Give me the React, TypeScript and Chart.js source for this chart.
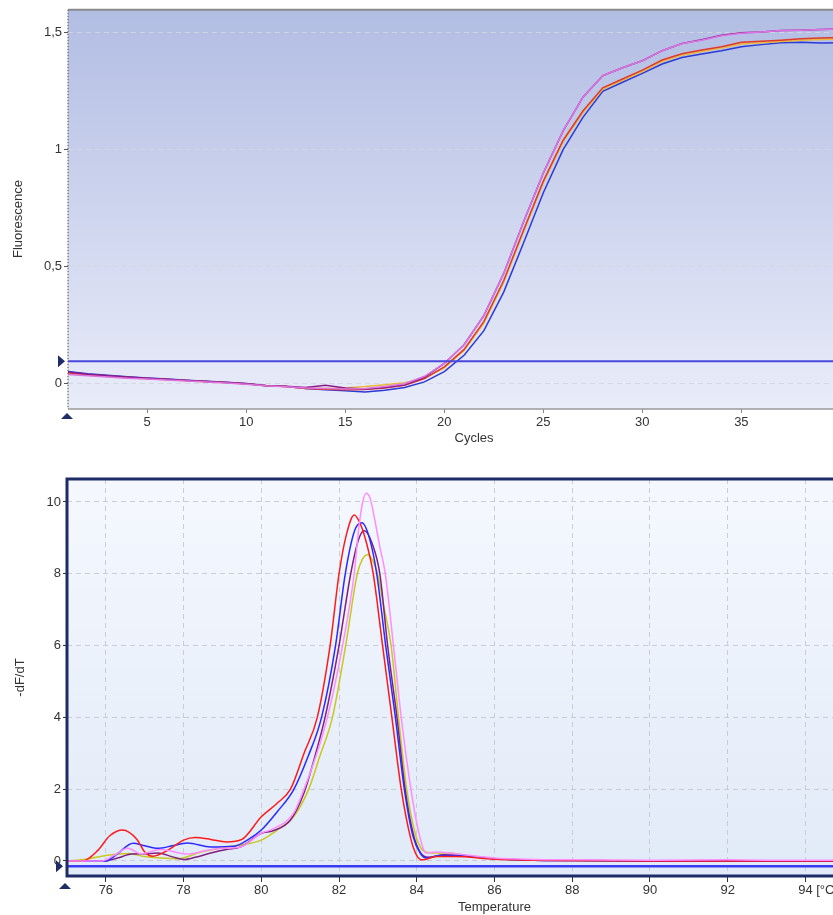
import React, { useEffect, useRef } from 'react';
import { Chart, registerables } from 'chart.js';

Chart.register(...registerables);

const FONT = "'Liberation Sans', Arial, Helvetica, sans-serif";

// ---------- Amplification (top) ----------
const cycles = [1, 2, 3, 4, 5, 6, 7, 8, 9, 10, 11, 12, 13, 14, 15, 16, 17, 18, 19, 20, 21, 22, 23, 24, 25, 26, 27, 28, 29, 30, 31, 32, 33, 34, 35, 36, 37, 38, 39, 40];
const ampBlue = [0.05, 0.041, 0.034, 0.028, 0.023, 0.018, 0.013, 0.009, 0.004, -0.001, -0.009, -0.014, -0.022, -0.028, -0.032, -0.037, -0.03, -0.018, 0.006,
  0.05, 0.12, 0.225, 0.39, 0.6, 0.815, 1.0, 1.138, 1.249, 1.288, 1.326, 1.366, 1.394, 1.409, 1.423, 1.44, 1.449, 1.457, 1.459, 1.456, 1.457];
const ampGold = [0.042, 0.035, 0.029, 0.024, 0.019, 0.015, 0.011, 0.007, 0.002, -0.003, -0.01, -0.014, -0.02, -0.022, -0.02, -0.014, -0.006, 0.002, 0.022,
  0.066, 0.14, 0.258, 0.432, 0.648, 0.858, 1.034, 1.158, 1.258, 1.296, 1.334, 1.377, 1.404, 1.42, 1.434, 1.452, 1.457, 1.462, 1.468, 1.471, 1.473];
const ampRed = [0.045, 0.037, 0.031, 0.026, 0.021, 0.016, 0.012, 0.008, 0.003, -0.002, -0.01, -0.014, -0.022, -0.026, -0.028, -0.027, -0.02, -0.008, 0.02,
  0.07, 0.145, 0.265, 0.44, 0.655, 0.865, 1.04, 1.165, 1.264, 1.302, 1.34, 1.383, 1.41, 1.426, 1.44, 1.459, 1.463, 1.468, 1.474, 1.477, 1.479];
const ampPurple = [0.048, 0.039, 0.032, 0.027, 0.022, 0.017, 0.012, 0.008, 0.003, -0.002, -0.01, -0.013, -0.018, -0.008, -0.02, -0.024, -0.018, -0.006, 0.025,
  0.085, 0.165, 0.29, 0.47, 0.69, 0.9, 1.08, 1.224, 1.316, 1.35, 1.38, 1.423, 1.454, 1.47, 1.489, 1.5, 1.503, 1.509, 1.511, 1.514, 1.516];
const ampPink = [0.038, 0.032, 0.027, 0.022, 0.018, 0.014, 0.01, 0.006, 0.001, -0.004, -0.011, -0.015, -0.02, -0.022, -0.024, -0.022, -0.014, -0.002, 0.03,
  0.085, 0.165, 0.29, 0.47, 0.69, 0.9, 1.08, 1.224, 1.316, 1.35, 1.38, 1.423, 1.454, 1.468, 1.487, 1.498, 1.503, 1.509, 1.511, 1.514, 1.516];
const ampThreshold = 0.094;
const cycleTicks = [5, 10, 15, 20, 25, 30, 35];
const fluorTicks = [0, 0.5, 1, 1.5];

// ---------- Melt curve (bottom) ----------
const meltRedT = [75, 75.4, 75.8, 76.1, 76.43, 76.8, 77.0, 77.21, 77.6, 78.0, 78.3, 78.7, 79.1, 79.5, 80.0, 80.4, 80.75, 81.1, 81.44, 81.77, 82.0, 82.18, 82.39, 82.56, 82.72, 82.88, 83.12, 83.36, 83.6, 83.85, 84.0, 84.15, 84.5, 85, 86, 87, 88, 90, 92, 95];
const meltRedV = [0, 0.0, 0.3, 0.7, 0.86, 0.6, 0.25, 0.13, 0.3, 0.58, 0.65, 0.6, 0.53, 0.6, 1.23, 1.6, 2.0, 3.0, 4.0, 6.0, 8.0, 9.05, 9.64, 9.36, 8.8, 8.0, 6.0, 4.0, 2.0, 0.6, 0.15, 0.03, 0.12, 0.12, 0.05, 0.02, 0.01, 0, 0, 0];
const meltBlueT = [75, 76.0, 76.3, 76.7, 77.0, 77.34, 77.7, 78.1, 78.7, 79.3, 79.64, 80.0, 80.41, 80.83, 81.2, 81.55, 81.91, 82.16, 82.4, 82.59, 82.78, 82.97, 83.2, 83.45, 83.68, 83.9, 84.1, 84.25, 84.6, 85, 86, 87, 88, 90, 95];
const meltBlueV = [0, 0, 0.2, 0.49, 0.42, 0.35, 0.42, 0.5, 0.39, 0.41, 0.58, 0.86, 1.37, 1.98, 2.9, 4.0, 6.0, 8.0, 9.2, 9.42, 9.0, 8.0, 6.0, 4.0, 2.0, 0.7, 0.2, 0.08, 0.15, 0.15, 0.06, 0.02, 0.01, 0, 0];
const meltPurpleT = [75, 76.0, 76.3, 76.66, 77.0, 77.34, 77.7, 78.0, 78.3, 78.7, 79.1, 79.47, 80.0, 80.3, 80.75, 81.1, 81.35, 81.64, 82.0, 82.3, 82.5, 82.65, 82.85, 83.05, 83.25, 83.49, 83.7, 83.92, 84.1, 84.3, 84.7, 85.2, 86, 87, 88, 90, 95];
const meltPurpleV = [0, 0, 0.08, 0.19, 0.2, 0.22, 0.12, 0.04, 0.1, 0.22, 0.32, 0.39, 0.77, 0.84, 1.14, 1.9, 2.8, 4.0, 6.0, 8.0, 8.95, 9.2, 8.85, 8.0, 6.0, 4.0, 2.0, 0.7, 0.22, 0.1, 0.17, 0.14, 0.06, 0.02, 0.01, 0, 0];
const meltPinkT = [75, 75.9, 76.2, 76.57, 76.9, 77.4, 78.1, 78.6, 79.0, 79.47, 80.0, 80.32, 80.83, 81.1, 81.4, 81.7, 82.09, 82.39, 82.5, 82.6, 82.7, 82.8, 82.92, 83.05, 83.19, 83.4, 83.6, 83.85, 84.05, 84.24, 84.5, 85, 86, 87, 88, 90, 92, 93, 95];
const meltPinkV = [0, 0, 0.15, 0.35, 0.2, 0.32, 0.19, 0.3, 0.35, 0.39, 0.77, 0.9, 1.33, 2.0, 2.9, 4.0, 6.0, 8.0, 9.2, 9.95, 10.24, 10.1, 9.5, 8.75, 8.0, 6.0, 4.0, 2.0, 0.8, 0.22, 0.25, 0.2, 0.08, 0.04, 0.03, 0.02, 0.03, 0.02, 0.02];
const meltYellowT = [75, 75.5, 76.0, 76.57, 77.0, 77.42, 77.85, 78.45, 79.13, 79.72, 80.0, 80.41, 80.83, 81.22, 81.5, 81.83, 82.17, 82.47, 82.6, 82.73, 82.86, 82.99, 83.15, 83.34, 83.53, 83.74, 83.95, 84.15, 84.4, 84.8, 85.3, 86, 87, 88, 95];
const meltYellowV = [0, 0.05, 0.15, 0.21, 0.12, 0.08, 0.06, 0.25, 0.39, 0.49, 0.58, 0.86, 1.23, 2.0, 2.9, 4.0, 6.0, 8.0, 8.4, 8.53, 8.38, 8.0, 7.1, 6.0, 4.0, 2.0, 0.8, 0.3, 0.22, 0.22, 0.15, 0.07, 0.03, 0.01, 0];
const meltThreshold = -0.15;
const tempTicks = [76, 78, 80, 82, 84, 86, 88, 90, 92, 94];
const dfTicks = [0, 2, 4, 6, 8, 10];

const pts = (xs: number[], ys: number[]) => xs.map((x, i) => ({ x, y: ys[i] }));

const topDecor = {
  id: 'topDecor',
  beforeDraw(chart: any) {
    const { ctx, chartArea: a } = chart;
    const g = ctx.createLinearGradient(0, a.top, 0, a.bottom);
    g.addColorStop(0, '#b2bde3');
    g.addColorStop(1, '#e9ecf9');
    ctx.save();
    ctx.fillStyle = g;
    ctx.fillRect(a.left, a.top, a.right - a.left, a.bottom - a.top);
    ctx.restore();
  },
  afterDraw(chart: any) {
    const { ctx, chartArea: a, scales } = chart;
    ctx.save();
    ctx.strokeStyle = '#8a8a8a';
    ctx.lineWidth = 2;
    ctx.beginPath(); ctx.moveTo(a.left, a.top); ctx.lineTo(a.right, a.top); ctx.stroke();
    ctx.strokeStyle = '#9a9a9a';
    ctx.lineWidth = 1.5;
    ctx.beginPath(); ctx.moveTo(a.left, a.bottom); ctx.lineTo(a.right, a.bottom); ctx.stroke();
    ctx.strokeStyle = '#666';
    ctx.lineWidth = 1.2;
    ctx.setLineDash([1.5, 1.5]);
    ctx.beginPath(); ctx.moveTo(a.left, a.top); ctx.lineTo(a.left, a.bottom); ctx.stroke();
    ctx.setLineDash([]);
    const ty = scales.y.getPixelForValue(ampThreshold);
    ctx.fillStyle = '#1f2d66';
    ctx.beginPath(); ctx.moveTo(a.left - 10, ty - 6); ctx.lineTo(a.left - 3, ty); ctx.lineTo(a.left - 10, ty + 6); ctx.closePath(); ctx.fill();
    ctx.beginPath(); ctx.moveTo(a.left - 7, a.bottom + 10); ctx.lineTo(a.left - 1, a.bottom + 4); ctx.lineTo(a.left + 5, a.bottom + 10); ctx.closePath(); ctx.fill();
    ctx.translate(18, 219);
    ctx.rotate(-Math.PI / 2);
    ctx.font = `13px ${FONT}`;
    ctx.fillStyle = '#333';
    ctx.textAlign = 'center';
    ctx.textBaseline = 'middle';
    ctx.fillText('Fluorescence', 0, 0);
    ctx.restore();
  },
};

const bottomDecor = {
  id: 'bottomDecor',
  beforeDraw(chart: any) {
    const { ctx, chartArea: a } = chart;
    const g = ctx.createLinearGradient(0, a.top, 0, a.bottom);
    g.addColorStop(0, '#f5f8fe');
    g.addColorStop(1, '#e1eaf8');
    ctx.save();
    ctx.fillStyle = g;
    ctx.fillRect(a.left, a.top, a.right - a.left, a.bottom - a.top);
    ctx.restore();
  },
  afterDraw(chart: any) {
    const { ctx, chartArea: a, scales } = chart;
    ctx.save();
    ctx.strokeStyle = '#1d2b66';
    ctx.lineWidth = 3;
    ctx.strokeRect(a.left, a.top, a.right - a.left, a.bottom - a.top);
    const ty = scales.y.getPixelForValue(meltThreshold);
    ctx.fillStyle = '#1f2d66';
    ctx.beginPath(); ctx.moveTo(a.left - 11, ty - 6); ctx.lineTo(a.left - 4, ty); ctx.lineTo(a.left - 11, ty + 6); ctx.closePath(); ctx.fill();
    ctx.beginPath(); ctx.moveTo(a.left - 8, a.bottom + 13); ctx.lineTo(a.left - 2, a.bottom + 7); ctx.lineTo(a.left + 4, a.bottom + 13); ctx.closePath(); ctx.fill();
    ctx.font = `13px ${FONT}`;
    ctx.fillStyle = '#333';
    ctx.textBaseline = 'middle';
    ctx.textAlign = 'left';
    const px = scales.x.getPixelForValue(94);
    const w = ctx.measureText('94').width;
    ctx.fillText('[°C]', px + w / 2 + ctx.measureText(' ').width, a.bottom + 14);
    ctx.restore();
  },
};

const tickFont = { family: FONT, size: 13 };
const comma = (v: any) => String(v).replace('.', ',');

function AmpChart() {
  const ref = useRef<HTMLCanvasElement>(null);
  useEffect(() => {
    const line = (data: number[], color: string) => ({
      data: pts(cycles, data), borderColor: color, borderWidth: 1.5, pointRadius: 0, tension: 0, fill: false,
    });
    // Chart.js paints dataset 0 last (on top)
    const chart = new Chart(ref.current!, {
      type: 'line',
      data: {
        datasets: [
          { data: [{ x: 1, y: ampThreshold }, { x: 42, y: ampThreshold }], borderColor: '#4848dc', borderWidth: 2, pointRadius: 0 },
          line(ampPink, '#dc74e2'),
          line(ampPurple, '#8a1a90'),
          line(ampRed, '#e0382a'),
          line(ampGold, '#eab83a'),
          line(ampBlue, '#2a3ad8'),
        ] as any,
      },
      options: {
        animation: false,
        responsive: false,
        events: [],
        layout: { padding: { top: 9, left: 0, right: 0, bottom: 0 } },
        plugins: { legend: { display: false }, tooltip: { enabled: false } },
        scales: {
          x: {
            type: 'linear', min: 1, max: 42,
            afterBuildTicks: (s: any) => { s.ticks = cycleTicks.map((v) => ({ value: v })); },
            afterFit: (s: any) => { s.height = 41; },
            grid: { drawOnChartArea: false, drawTicks: true, tickLength: 4, tickColor: '#888' },
            border: { display: false },
            ticks: { font: tickFont, color: '#333', padding: 2, maxRotation: 0, autoSkip: false },
            title: { display: true, text: 'Cycles', font: tickFont, color: '#333', padding: { top: 0, bottom: 4 } },
          },
          y: {
            type: 'linear', min: -0.11, max: 1.598,
            afterBuildTicks: (s: any) => { s.ticks = fluorTicks.map((v) => ({ value: v })); },
            afterFit: (s: any) => { s.width = 68; },
            grid: { color: 'rgba(212,214,224,0.95)', tickColor: '#555', tickLength: 4 },
            border: { display: false, dash: [5, 4] },
            ticks: { font: tickFont, color: '#333', padding: 2, callback: comma },
          },
        },
      } as any,
      plugins: [topDecor],
    });
    return () => chart.destroy();
  }, []);
  return <canvas ref={ref} width={880} height={450} style={{ position: 'absolute', left: 0, top: 0, width: 880, height: 450 }} />;
}

function MeltChart() {
  const ref = useRef<HTMLCanvasElement>(null);
  useEffect(() => {
    const line = (xs: number[], ys: number[], color: string) => ({
      data: pts(xs, ys), borderColor: color, borderWidth: 1.5, pointRadius: 0, cubicInterpolationMode: 'monotone', fill: false,
    });
    const chart = new Chart(ref.current!, {
      type: 'line',
      data: {
        datasets: [
          { data: [{ x: 75, y: meltThreshold }, { x: 97, y: meltThreshold }], borderColor: '#3a3af5', borderWidth: 2.5, pointRadius: 0 },
          line(meltPinkT, meltPinkV, '#ff8cff'),
          line(meltRedT, meltRedV, '#ff1a1a'),
          line(meltBlueT, meltBlueV, '#2a2aff'),
          line(meltPurpleT, meltPurpleV, '#80207f'),
          line(meltYellowT, meltYellowV, '#c8c81e'),
        ] as any,
      },
      options: {
        animation: false,
        responsive: false,
        events: [],
        layout: { padding: { top: 19, left: 0, right: 0, bottom: 0 } },
        plugins: { legend: { display: false }, tooltip: { enabled: false } },
        scales: {
          x: {
            type: 'linear', min: 75, max: 97,
            afterBuildTicks: (s: any) => { s.ticks = tempTicks.map((v) => ({ value: v })); },
            afterFit: (s: any) => { s.height = 39; },
            grid: { color: 'rgba(200,200,205,0.9)', tickColor: '#333', tickLength: 6 },
            border: { display: false, dash: [5, 4] },
            ticks: { font: tickFont, color: '#333', padding: 1, maxRotation: 0, autoSkip: false },
            title: { display: true, text: 'Temperature', font: tickFont, color: '#333', padding: { top: 0, bottom: 0 } },
          },
          y: {
            type: 'linear', min: -0.42, max: 10.64,
            afterBuildTicks: (s: any) => { s.ticks = dfTicks.map((v) => ({ value: v })); },
            afterFit: (s: any) => { s.width = 67; },
            grid: { color: 'rgba(200,200,205,0.9)', tickColor: '#333', tickLength: 4 },
            border: { display: false, dash: [5, 4] },
            ticks: { font: tickFont, color: '#333', padding: 2 },
            title: { display: true, text: '-dF/dT', font: tickFont, color: '#333', padding: { top: 13, bottom: 0 } },
          },
        },
      } as any,
      plugins: [bottomDecor],
    });
    return () => chart.destroy();
  }, []);
  return <canvas ref={ref} width={922} height={455} style={{ position: 'absolute', left: 0, top: 460, width: 922, height: 455 }} />;
}

export default function App() {
  return (
    <div style={{ position: 'fixed', left: 0, top: 0, width: 833, height: 915, overflow: 'hidden', background: '#fff' }}>
      <AmpChart />
      <MeltChart />
    </div>
  );
}
